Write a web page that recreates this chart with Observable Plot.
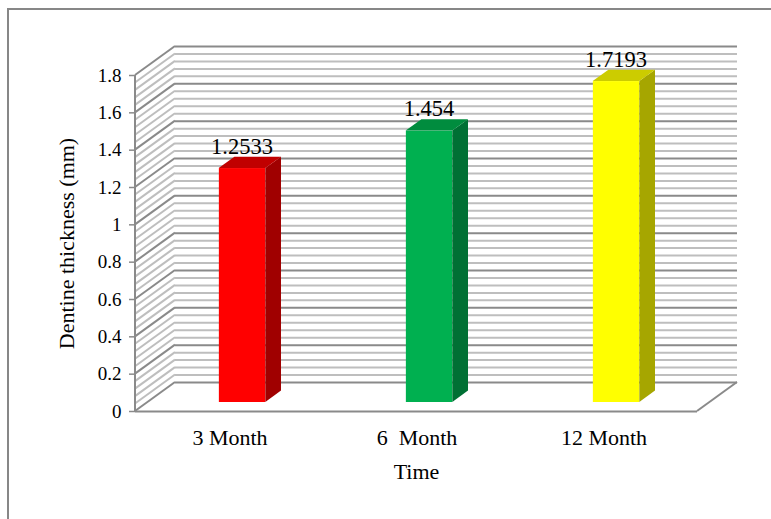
<!DOCTYPE html>
<html>
<head>
<meta charset="utf-8">
<script src="https://cdn.jsdelivr.net/npm/d3@7"></script>
<script src="https://cdn.jsdelivr.net/npm/@observablehq/plot@0.6"></script>
<style>
  html, body { margin: 0; padding: 0; background: #fff; }
  #chart { position: relative; width: 771px; height: 519px; overflow: hidden; }
  #border { position: absolute; left: 7px; top: 8px; width: 820px; height: 600px;
            border: 2px solid #878787; box-sizing: border-box; }
  #chart svg { position: absolute; left: 0; top: 0; }
  #chart svg text { white-space: pre; }
</style>
</head>
<body>
<div id="chart"><div id="border"></div></div>
<script>
// Dentine thickness measured at each follow-up time
const timeLabels = ["3 Month", "6  Month", "12 Month"];
const thickness = [1.2533, 1.454, 1.7193];

// Face colours for each bar: front, top, right side
const frontColors = ["#ff0000", "#00b050", "#ffff00"];
const topColors = ["#c00000", "#008c3e", "#cccc00"];
const sideColors = ["#a00000", "#007034", "#a6a600"];

// Value-axis tick labels
const yTickValues = [0, 0.2, 0.4, 0.6, 0.8, 1, 1.2, 1.4, 1.6, 1.8];

const rows = timeLabels.map((time, i) => ({
  time, value: thickness[i], front: frontColors[i], top: topColors[i], side: sideColors[i]
}));

// Pseudo-3D geometry (pixels)
const depth = {dx: 40, dy: -29};       // floor / back-wall depth
const barShift = {dx: 12.5, dy: -9};   // bars stand part way into the box
const barDepth = {dx: 15.7, dy: -11.4};
const barWidth = 46.6;

// Fine gridlines every 0.04, heavier ones on the 0.2 ticks
const gridLevels = d3.range(0, 46).map(i => +(i * 0.04).toFixed(2));
const isMajor = v => Math.abs(v / 0.2 - Math.round(v / 0.2)) < 1e-6;
const minorLevels = gridLevels.filter(v => !isMajor(v));

const majorStroke = "#8a8a8a";
const minorStroke = "#bebebe";

// Left side wall hatching, floor right edge and the value-axis line
function sideWall(index, scales, values, dimensions) {
  const {y} = scales;
  const left = dimensions.marginLeft;
  const right = dimensions.width - dimensions.marginRight;
  const g = d3.create("svg:g");
  for (const v of gridLevels) {
    g.append("line")
      .attr("x1", left).attr("y1", y(v))
      .attr("x2", left + depth.dx).attr("y2", y(v) + depth.dy)
      .attr("stroke", isMajor(v) ? majorStroke : minorStroke)
      .attr("stroke-width", 2);
  }
  g.append("line")
    .attr("x1", right).attr("y1", y(0))
    .attr("x2", right + depth.dx).attr("y2", y(0) + depth.dy)
    .attr("stroke", majorStroke).attr("stroke-width", 2);
  g.append("line")
    .attr("x1", left).attr("y1", y(0))
    .attr("x2", left).attr("y2", y(d3.max(yTickValues)))
    .attr("stroke", majorStroke).attr("stroke-width", 2);
  return g.node();
}

// Top and right-hand faces of each bar
function barFaces(index, scales) {
  const {x, y} = scales;
  const bw = x.bandwidth();
  const g = d3.create("svg:g");
  for (const r of rows) {
    const x0 = x(r.time) + (bw - barWidth) / 2 + barShift.dx;
    const x1 = x0 + barWidth;
    const yt = y(r.value) + barShift.dy;
    const yb = y(0) + barShift.dy;
    const side = [[x1, yt], [x1 + barDepth.dx, yt + barDepth.dy],
                  [x1 + barDepth.dx, yb + barDepth.dy], [x1, yb]];
    const top = [[x0, yt], [x0 + barDepth.dx, yt + barDepth.dy],
                 [x1 + barDepth.dx, yt + barDepth.dy], [x1, yt]];
    g.append("polygon").attr("points", side.join(" ")).attr("fill", r.side);
    g.append("polygon").attr("points", top.join(" ")).attr("fill", r.top);
  }
  return g.node();
}

const plot = Plot.plot({
  width: 771,
  height: 519,
  marginLeft: 135,
  marginRight: 74,
  marginTop: 75,
  marginBottom: 108,
  style: {fontFamily: "Liberation Serif, serif", fontSize: "20px", color: "#000", background: "transparent"},
  x: {domain: timeLabels, padding: 0},
  y: {domain: [0, 1.8]},
  marks: [
    Plot.ruleY(minorLevels, {stroke: minorStroke, strokeWidth: 2, dx: depth.dx, dy: depth.dy}),
    Plot.ruleY(yTickValues, {stroke: majorStroke, strokeWidth: 2, dx: depth.dx, dy: depth.dy}),
    sideWall,
    Plot.ruleY([0], {stroke: majorStroke, strokeWidth: 2}),
    // value-axis ticks and numbers
    Plot.axisY({
      ticks: yTickValues, tickSize: 6, tickPadding: 8, stroke: majorStroke, strokeWidth: 1.5,
      tickFormat: d3.format("~g"), fontSize: 19, label: null
    }),
    // value-axis title
    Plot.axisY({
      ticks: [], tickSize: 0, fontSize: 22, label: "Dentine thickness (mm)",
      labelAnchor: "center", labelOffset: 77, labelArrow: false
    }),
    Plot.axisX({
      tickSize: 0, tickPadding: 18, fontSize: 22, label: "Time", labelAnchor: "center",
      labelOffset: 67, labelArrow: false
    }),
    Plot.barY(rows, {
      x: "time", y: "value", fill: "front",
      insetLeft: (187.33 - barWidth) / 2, insetRight: (187.33 - barWidth) / 2,
      dx: barShift.dx, dy: barShift.dy
    }),
    barFaces,
    Plot.text(rows, {
      x: "time", y: "value", text: d => String(d.value),
      lineAnchor: "bottom", dx: 12, dy: -24, fontSize: 22.5, fill: "#000"
    })
  ]
});

document.getElementById("chart").appendChild(plot);
</script>
</body>
</html>
